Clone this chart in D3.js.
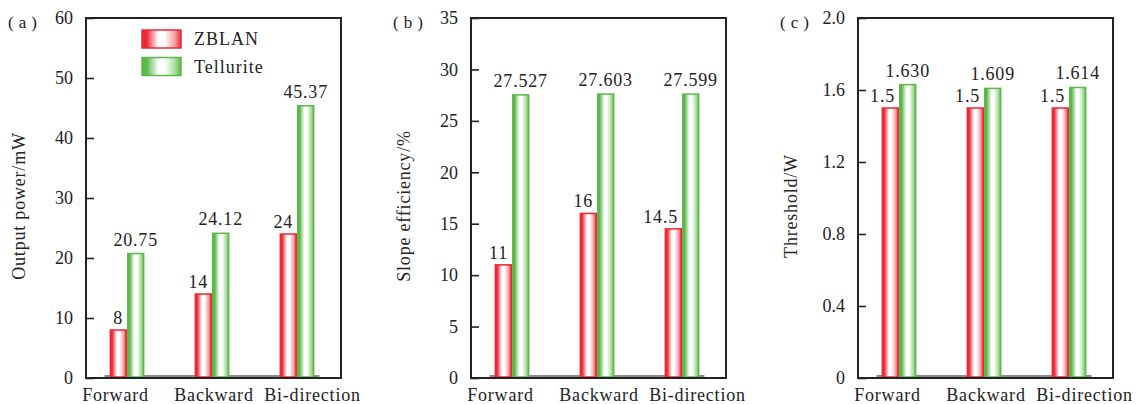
<!DOCTYPE html>
<html>
<head>
<meta charset="utf-8">
<script src="https://cdn.jsdelivr.net/npm/d3@7/dist/d3.min.js"></script>
<style>
  html, body { margin: 0; padding: 0; background: #fff; }
  svg { display: block; }
</style>
</head>
<body>
<svg id="chart" width="1137" height="404"></svg>
<script>
// Pumping directions shared by the three panels
const categories = ["Forward", "Backward", "Bi-direction"];
const seriesNames = ["ZBLAN", "Tellurite"];

// (a) output power, mW
const powerZBLAN = [8, 14, 24];
const powerTellurite = [20.75, 24.12, 45.37];
const powerTicks = [0, 10, 20, 30, 40, 50, 60];

// (b) slope efficiency, %
const slopeZBLAN = [11, 16, 14.5];
const slopeTellurite = [27.527, 27.603, 27.599];
const slopeTicks = [0, 5, 10, 15, 20, 25, 30, 35];

// (c) threshold, W
const threshZBLAN = [1.5, 1.5, 1.5];
const threshTellurite = [1.630, 1.609, 1.614];
const threshTicks = [0, 0.4, 0.8, 1.2, 1.6, 2.0];
const threshTickLabels = ["0", "0.4", "0.8", "1.2", "1.6", "2.0"];

// Label text shown above each bar
const powerLabelsZ = ["8", "14", "24"];
const powerLabelsT = ["20.75", "24.12", "45.37"];
const slopeLabelsZ = ["11", "16", "14.5"];
const slopeLabelsT = ["27.527", "27.603", "27.599"];
const threshLabelsZ = ["1.5", "1.5", "1.5"];
const threshLabelsT = ["1.630", "1.609", "1.614"];

const panels = [
  { tag: "(a)", title: "Output power/mW", z: powerZBLAN, t: powerTellurite,
    lz: powerLabelsZ, lt: powerLabelsT, ticks: powerTicks,
    tickLabels: powerTicks.map(String), max: 60, legend: true },
  { tag: "(b)", title: "Slope efficiency/%", z: slopeZBLAN, t: slopeTellurite,
    lz: slopeLabelsZ, lt: slopeLabelsT, ticks: slopeTicks,
    tickLabels: slopeTicks.map(String), max: 35, legend: false },
  { tag: "(c)", title: "Threshold/W", z: threshZBLAN, t: threshTellurite,
    lz: threshLabelsZ, lt: threshLabelsT, ticks: threshTicks,
    tickLabels: threshTickLabels, max: 2.0, legend: false }
];

const FONT = "'Liberation Serif', 'DejaVu Serif', serif";
const INK = "#222";
const svg = d3.select("#chart");
const colors = { ZBLAN: "#ec2a35", Tellurite: "#5cb84a" };

// Horizontal "tube" gradients: coloured edges, white core
const defs = svg.append("defs");
function tubeGradient(id, c, light) {
  const g = defs.append("linearGradient").attr("id", id)
    .attr("x1", "0%").attr("x2", "100%").attr("y1", "0%").attr("y2", "0%");
  [[0, c], [0.12, c], [0.42, "#ffffff"], [0.58, "#ffffff"], [0.85, light], [1, c]]
    .forEach(([o, col]) => g.append("stop").attr("offset", o).attr("stop-color", col));
}
tubeGradient("gZBLAN", colors.ZBLAN, "#f49aa0");
tubeGradient("gTellurite", colors.Tellurite, "#a8dc9c");

const frameW = 255, plotTop = 18, plotBottom = 378;
const lefts = [86, 471, 858];

panels.forEach((p, i) => {
  const left = lefts[i], right = left + frameW;
  const g = svg.append("g");

  const y = d3.scaleLinear().domain([0, p.max]).range([plotBottom, plotTop]);
  const x = d3.scaleBand().domain(categories).range([left - 1.5, right - 1.5]).padding(0);
  const bw = x.bandwidth() * 0.205;
  const xs = d3.scaleBand().domain(seriesNames).range([-bw, bw]).padding(0);
  const xl = d3.scalePoint().domain(categories).range([left + 29, right - 29]);

  // Panel tag
  g.append("text").attr("x", left - 78).attr("y", 28)
    .attr("font-size", 17).attr("letter-spacing", 5).text(p.tag);

  // Y axis title
  g.append("text")
    .attr("transform", `translate(${left - 61},206) rotate(-90)`)
    .attr("text-anchor", "middle").attr("font-size", 18)
    .attr("letter-spacing", 0.8).text(p.title);

  // Y axis with inward ticks
  const yAxis = d3.axisLeft(y).tickValues(p.ticks)
    .tickFormat((d, k) => p.tickLabels[k]).tickSizeInner(-8).tickSizeOuter(0).tickPadding(13);
  const ya = g.append("g").attr("transform", `translate(${left},0)`).call(yAxis);
  ya.select(".domain").remove();
  ya.selectAll(".tick line").attr("stroke", INK).attr("stroke-width", 1.6);
  ya.selectAll(".tick text").attr("font-size", 18).attr("dy", "0.32em");

  // Category labels
  const xAxis = d3.axisBottom(xl).tickSize(0).tickPadding(0);
  const xa = g.append("g").attr("transform", `translate(0,${plotBottom})`).call(xAxis);
  xa.select(".domain").remove();
  xa.selectAll(".tick text").attr("font-size", 18).attr("letter-spacing", 0.8).attr("dy", 23);

  // Grey base strip under the bars
  const x0 = x(categories[0]) + x.bandwidth() / 2 - bw - 5;
  const x1 = x(categories[2]) + x.bandwidth() / 2 + bw + 5;
  g.append("line").attr("x1", x0).attr("x2", x1)
    .attr("y1", y(0) - 2).attr("y2", y(0) - 2)
    .attr("stroke", "#8c8c8c").attr("stroke-width", 2);

  const cx = c => x(c) + x.bandwidth() / 2;
  const rows = categories.map((c, k) => ({ c, z: p.z[k], t: p.t[k], lz: p.lz[k], lt: p.lt[k] }));

  // ZBLAN bars and labels (labels tucked against the Tellurite bar)
  g.selectAll(".bz").data(rows).join("rect")
    .attr("x", d => cx(d.c) + xs("ZBLAN") + 0.75)
    .attr("y", d => y(d.z))
    .attr("width", xs.bandwidth() - 1.5)
    .attr("height", d => y(0) - y(d.z) - 1)
    .attr("fill", "url(#gZBLAN)").attr("stroke", colors.ZBLAN).attr("stroke-width", 1.5);
  g.selectAll(".lz").data(rows).join("text")
    .attr("x", d => cx(d.c) + xs("Tellurite") - 4)
    .attr("y", d => y(d.z) - 6)
    .attr("text-anchor", "end").attr("font-size", 18).attr("letter-spacing", 0.8)
    .text(d => d.lz);

  // Tellurite bars and labels
  g.selectAll(".bt").data(rows).join("rect")
    .attr("x", d => cx(d.c) + xs("Tellurite") + 0.75)
    .attr("y", d => y(d.t))
    .attr("width", xs.bandwidth() - 1.5)
    .attr("height", d => y(0) - y(d.t) - 1)
    .attr("fill", "url(#gTellurite)").attr("stroke", colors.Tellurite).attr("stroke-width", 1.5);
  g.selectAll(".lt").data(rows).join("text")
    .attr("x", d => cx(d.c) + xs("Tellurite") + xs.bandwidth() / 2)
    .attr("y", d => y(d.t) - 8)
    .attr("text-anchor", "middle").attr("font-size", 18).attr("letter-spacing", 0.8)
    .text(d => d.lt);

  // Plot frame
  g.append("rect").attr("x", left).attr("y", plotTop)
    .attr("width", frameW).attr("height", plotBottom - plotTop)
    .attr("fill", "none").attr("stroke", INK).attr("stroke-width", 2);

  // Legend
  if (p.legend) {
    const lg = g.append("g").attr("transform", `translate(${left + 56},30)`);
    seriesNames.forEach((s, k) => {
      lg.append("rect").attr("x", 0).attr("y", k * 27.5).attr("width", 39).attr("height", 18)
        .attr("fill", `url(#g${s})`).attr("stroke", colors[s]).attr("stroke-width", 1.5);
      lg.append("text").attr("x", 52).attr("y", k * 27.5 + 15)
        .attr("font-size", 18).attr("letter-spacing", 1).text(s);
    });
  }
});

// One serif face for every piece of text
svg.selectAll("text").style("font-family", FONT).style("fill", INK);
</script>
</body>
</html>
